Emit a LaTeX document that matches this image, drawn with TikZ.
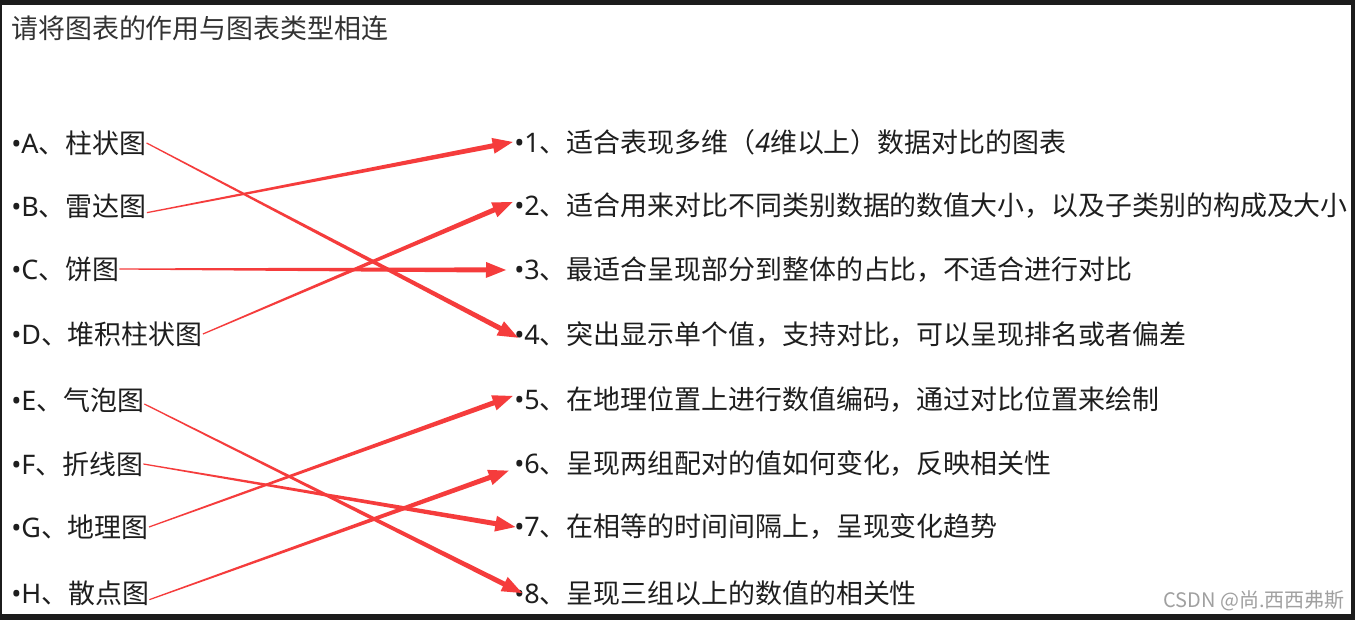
\documentclass[tikz,border=0pt]{standalone}
\usepackage{fontspec}
\newfontfamily\cjk{Noto Sans CJK SC}
\newfontfamily\lat{Noto Sans}
\usetikzlibrary{calc}
\definecolor{framec}{HTML}{1C1C1C}
\definecolor{arrowred}{HTML}{F53C3C}
\definecolor{txt}{HTML}{1E1E1E}
\definecolor{wm}{HTML}{A0A0A0}
\newcommand\taperarrow[2]{%
  \coordinate (ts) at #1;
  \coordinate (te) at #2;
  \coordinate (th) at ($(te)!15pt!(ts)$);
  \fill[arrowred] ($(ts)!0.45pt!90:(te)$) -- ($(th)!1.9pt!90:(te)$) -- ($(th)!6pt!90:(te)$) -- (te)
     -- ($(th)!6pt!-90:(te)$) -- ($(th)!1.9pt!-90:(te)$) -- ($(ts)!0.45pt!-90:(te)$) -- cycle;}
\newcommand\bl[1]{{\lat •#1}}
\tikzset{
  item/.style={anchor=west, inner sep=0pt, font=\cjk\fontsize{20.2pt}{24pt}\selectfont, text=txt},
}
\begin{document}
\begin{tikzpicture}[x=0.75pt, y=-0.75pt]
\useasboundingbox (0,0) rectangle (1355,620);
\fill[white] (0,0) rectangle (1355,620);
% frame
\fill[framec] (0,0) rectangle (1355,5);
\fill[framec] (0,0) rectangle (2,620);
\fill[framec] (1351,0) rectangle (1355,620);
\fill[framec] (0,614) rectangle (1355,620);
% title
\node[item, text=black!80] (title) at (11,28) {请将图表的作用与图表类型相连};
% left items
\node[item] (A) at (11,143) {\bl{A}、柱状图};
\node[item] (B) at (11,206) {\bl{B}、雷达图};
\node[item] (C) at (11,269) {\bl{C}、饼图};
\node[item] (D) at (11,334) {\bl{D}、堆积柱状图};
\node[item] (E) at (11,400) {\bl{E}、气泡图};
\node[item] (F) at (11,464) {\bl{F}、折线图};
\node[item] (G) at (11,527) {\bl{G}、地理图};
\node[item] (H) at (11,593) {\bl{H}、散点图};
% right items
\node[item] (n1) at (514,142) {\bl{1}、适合表现多维（{\lat\itshape 4}维以上）数据对比的图表};
\node[item] (n2) at (514,206) {\bl{2}、适合用来对比不同类别数据的数值大小，以及子类别的构成及大小};
\node[item] (n3) at (514,270) {\bl{3}、最适合呈现部分到整体的占比，不适合进行对比};
\node[item] (n4) at (514,335) {\bl{4}、突出显示单个值，支持对比，可以呈现排名或者偏差};
\node[item] (n5) at (514,400) {\bl{5}、在地理位置上进行数值编码，通过对比位置来绘制};
\node[item] (n6) at (514,464) {\bl{6}、呈现两组配对的值如何变化，反映相关性};
\node[item] (n7) at (514,527) {\bl{7}、在相等的时间间隔上，呈现变化趋势};
\node[item] (n8) at (514,593) {\bl{8}、呈现三组以上的数值的相关性};
% watermark
\node[anchor=west, inner sep=0pt, font=\cjk\fontsize{15pt}{18pt}\selectfont, text=wm] (wm) at (1163,601) {CSDN @尚.西西弗斯};
% connectors
\taperarrow{(A.east)}{([xshift=3pt,yshift=-2pt]n4.west)}
\taperarrow{([yshift=-5pt]B.east)}{([xshift=-1pt]n1.west)}
\taperarrow{(C.east)}{([xshift=-6pt]n3.west)}
\taperarrow{(D.east)}{([xshift=-1pt,yshift=3pt]n2.west)}
\taperarrow{([yshift=-3pt]E.east)}{([xshift=6pt]n8.west)}
\taperarrow{(F.east)}{([xshift=1pt]n7.west)}
\taperarrow{(G.east)}{([xshift=-1pt,yshift=3pt]n5.west)}
\taperarrow{([yshift=-5pt]H.east)}{([xshift=-4pt,yshift=-5pt]n6.west)}
\end{tikzpicture}
\end{document}
